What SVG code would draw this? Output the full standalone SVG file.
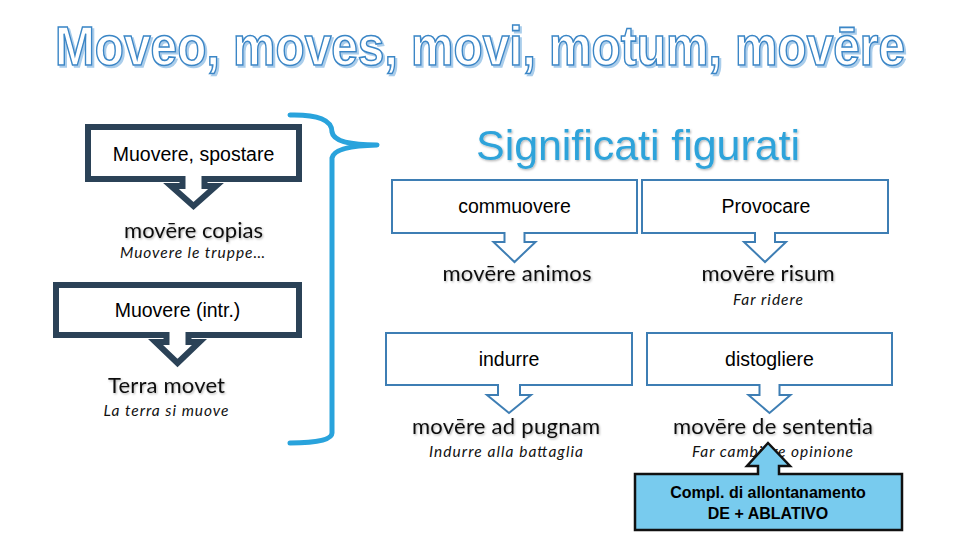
<svg xmlns="http://www.w3.org/2000/svg" width="960" height="540" viewBox="0 0 960 540">
<defs>
<style>
.title{font-family:"Liberation Sans",Arial,sans-serif;font-weight:bold;font-size:56px;text-anchor:start}
.ar{font-family:"Liberation Sans",Arial,sans-serif;font-size:19.5px;fill:#000;text-anchor:middle}
.lat{font-family:Lato,"Noto Sans",sans-serif;font-size:22px;fill:#111;text-anchor:middle}
.it{font-family:Lato,"Noto Sans",sans-serif;font-style:italic;font-size:15.5px;fill:#111;text-anchor:middle}
.dark{fill:#fff;stroke:#2B4257;stroke-width:6;stroke-linejoin:miter}
.blu{fill:#fff;stroke:#3E7EB4;stroke-width:2}
.cal{fill:#78CBEE;stroke:#111;stroke-width:2.5}
.bold{font-family:"Liberation Sans",Arial,sans-serif;font-weight:bold;font-size:16px;fill:#000;text-anchor:middle}
</style>
<filter id="sh" x="-10%" y="-30%" width="120%" height="160%">
<feDropShadow dx="1" dy="1.2" stdDeviation="0.8" flood-color="#000" flood-opacity="0.3"/>
</filter>
<filter id="tsh" x="-5%" y="-20%" width="110%" height="140%">
<feOffset in="SourceAlpha" dx="2" dy="2" result="o"/>
<feFlood flood-color="#A9CDEB"/>
<feComposite in2="o" operator="in" result="s"/>
<feMerge><feMergeNode in="s"/><feMergeNode in="SourceGraphic"/></feMerge>
</filter>
</defs>
<rect width="960" height="540" fill="#fff"/>

<g id="title">
<text class="title" x="55" y="65" textLength="850" lengthAdjust="spacingAndGlyphs" fill="#fff" stroke="#3A86C6" stroke-width="1.6" filter="url(#tsh)">Moveo, moves, movi, motum, movēre</text>
</g>

<g id="connectors">
<path d="M290,115 Q332,114 332,132 Q334,145 377,145 Q334,146 332,158 L332,433 Q332,443 290,443" fill="none" stroke="#29A3DC" stroke-width="5" stroke-linecap="round" stroke-linejoin="round"/>
</g>

<g id="node-muovere-spostare">
<path class="dark" d="M88,127 H299 V179 H204.5 V186 H216 L193.5,206 L171,186 H182.5 V179 H88 Z"/>
<text class="ar" x="193.5" y="161">Muovere, spostare</text>
</g>
<g id="node-movere-copias">
<text class="lat" x="193.5" y="238" textLength="139" filter="url(#sh)">movēre copias</text>
<text class="it" x="192.5" y="258" textLength="145">Muovere le truppe…</text>
</g>

<g id="node-muovere-intr">
<path class="dark" d="M56,285 H299 V335 H188.5 V342 H199.5 L177.5,363 L155.5,342 H166.5 V335 H56 Z"/>
<text class="ar" x="177.5" y="317">Muovere (intr.)</text>
</g>
<g id="node-terra-movet">
<text class="lat" x="166.5" y="393" textLength="117" filter="url(#sh)">Terra movet</text>
<text class="it" x="166" y="416" textLength="125">La terra si muove</text>
</g>

<g id="node-significati">
<text x="638" y="160" text-anchor="middle" font-family="'Liberation Sans',Arial,sans-serif" font-size="43" fill="#2EA3DA" filter="url(#sh)" textLength="324">Significati figurati</text>
</g>

<g id="node-commuovere">
<path class="blu" d="M392,180 H637 V233 H524.5 V242 H535.5 L514.5,262 L493.5,242 H504.5 V233 H392 Z"/>
<text class="ar" x="514.5" y="213">commuovere</text>
</g>
<g id="node-movere-animos">
<text class="lat" x="517" y="281" textLength="149" filter="url(#sh)">movēre animos</text>
</g>

<g id="node-provocare">
<path class="blu" d="M642,180 H888 V233 H775 V242 H786 L765,262 L744,242 H755 V233 H642 Z"/>
<text class="ar" x="766" y="213">Provocare</text>
</g>
<g id="node-movere-risum">
<text class="lat" x="768" y="281" textLength="133" filter="url(#sh)">movēre risum</text>
<text class="it" x="768" y="305" textLength="70">Far ridere</text>
</g>

<g id="node-indurre">
<path class="blu" d="M386,333 H632 V385 H520 V395 H531 L509,413 L487,395 H498 V385 H386 Z"/>
<text class="ar" x="509" y="366">indurre</text>
</g>
<g id="node-movere-ad-pugnam">
<text class="lat" x="506" y="434" textLength="188" filter="url(#sh)">movēre ad pugnam</text>
<text class="it" x="506" y="457" textLength="154">Indurre alla battaglia</text>
</g>

<g id="node-distogliere">
<path class="blu" d="M647,333 H892 V385 H779.5 V395 H790.5 L769.5,413 L748.5,395 H759.5 V385 H647 Z"/>
<text class="ar" x="769.5" y="366">distogliere</text>
</g>
<g id="node-movere-de-sententia">
<text class="lat" x="773" y="434" textLength="200" filter="url(#sh)">movēre de sententia</text>
<text class="it" x="772.5" y="457" textLength="161">Far cambiare opinione</text>
</g>

<g id="node-compl">
<path class="cal" d="M635,474 H758 V466 H747 L768,443 L790,466 H779 V474 H902 V530 H635 Z"/>
<text class="bold" x="768" y="498">Compl. di allontanamento</text>
<text class="bold" x="768" y="519">DE + ABLATIVO</text>
</g>
</svg>
